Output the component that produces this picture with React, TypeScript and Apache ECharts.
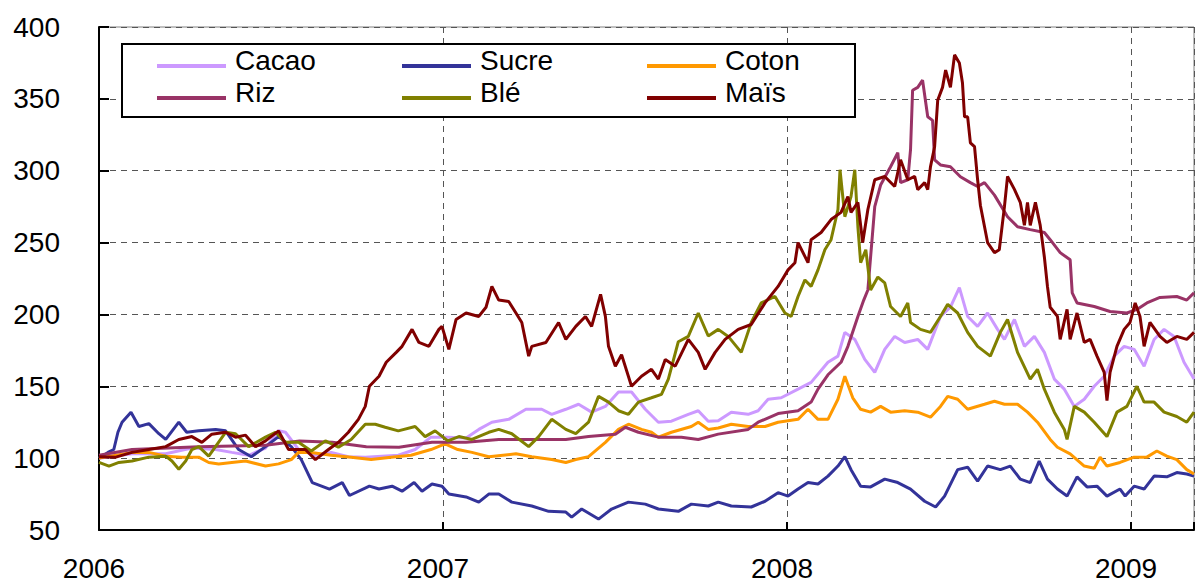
import React, { useEffect, useRef } from "react";
import * as echarts from "echarts";

const NAMES = ["Cacao", "Sucre", "Coton", "Riz", "Blé", "Maïs"];
const COLORS = ["#CC99FF", "#333399", "#FF9900", "#993366", "#808000", "#800000"];
const X_MIN = 2006;
const X_MAX = 2009.183;
const Y_MIN = 50;
const Y_MAX = 400;

// [decimal year, index value]
const CACAO: [number, number][] = [
  [2006.0, 100], [2006.096, 103], [2006.194, 103], [2006.27, 107], [2006.339, 106], [2006.386, 104],
  [2006.435, 102], [2006.484, 107], [2006.522, 119], [2006.542, 118], [2006.58, 106], [2006.629, 102],
  [2006.675, 104], [2006.725, 101], [2006.774, 100.7], [2006.87, 102], [2006.919, 106], [2006.965, 114.6],
  [2007.014, 114.6], [2007.067, 114], [2007.104, 120], [2007.142, 125], [2007.191, 127], [2007.241, 134],
  [2007.287, 134], [2007.316, 130.5], [2007.357, 134], [2007.394, 137.5], [2007.432, 132], [2007.472, 136],
  [2007.51, 146], [2007.548, 146], [2007.588, 134], [2007.626, 125], [2007.664, 125.7], [2007.713, 130.5],
  [2007.742, 133], [2007.771, 125.7], [2007.8, 126], [2007.838, 132], [2007.887, 130.5], [2007.916, 133],
  [2007.945, 141], [2007.983, 142], [2008.032, 148], [2008.07, 152.7], [2008.119, 166.7], [2008.148, 171],
  [2008.168, 187.5], [2008.197, 182.6], [2008.226, 168.7], [2008.255, 159.7], [2008.284, 175.7], [2008.313, 184.7],
  [2008.342, 180.5], [2008.38, 182.6], [2008.409, 175.7], [2008.446, 198.6], [2008.475, 205], [2008.501, 218.7],
  [2008.525, 198.6], [2008.554, 191.7], [2008.583, 201], [2008.612, 189.6], [2008.632, 182.6], [2008.661, 196.5],
  [2008.69, 177.8], [2008.719, 184.7], [2008.748, 173.6], [2008.777, 155], [2008.806, 148], [2008.835, 136],
  [2008.864, 141], [2008.893, 150], [2008.922, 157], [2008.951, 171], [2008.98, 177.8], [2009.009, 175.7],
  [2009.038, 164], [2009.067, 182.6], [2009.096, 189.6], [2009.125, 184.7], [2009.154, 166.7], [2009.183, 155],
];

const SUCRE: [number, number][] = [
  [2006.0, 100], [2006.026, 104], [2006.043, 106], [2006.055, 118], [2006.067, 125], [2006.093, 132],
  [2006.116, 122], [2006.145, 124], [2006.174, 117], [2006.194, 113], [2006.232, 125], [2006.255, 118],
  [2006.29, 119], [2006.339, 120], [2006.368, 119], [2006.406, 106], [2006.443, 101], [2006.484, 108],
  [2006.522, 115], [2006.559, 108], [2006.588, 99], [2006.62, 83], [2006.67, 78.5], [2006.707, 83],
  [2006.728, 74], [2006.786, 80.5], [2006.814, 78.5], [2006.852, 80.5], [2006.881, 77], [2006.916, 83],
  [2006.939, 77], [2006.968, 82], [2006.997, 80.5], [2007.017, 75], [2007.067, 73], [2007.104, 69.4],
  [2007.133, 75], [2007.162, 75], [2007.2, 69.4], [2007.258, 66.7], [2007.307, 63], [2007.357, 62.5],
  [2007.374, 59], [2007.403, 64.6], [2007.452, 57.6], [2007.49, 64.6], [2007.539, 69.4], [2007.588, 68],
  [2007.626, 64.6], [2007.684, 63], [2007.722, 68], [2007.771, 66.7], [2007.8, 69.4], [2007.838, 66.7],
  [2007.896, 66], [2007.936, 70], [2007.974, 76], [2008.003, 73.6], [2008.032, 78.5], [2008.061, 83],
  [2008.09, 82], [2008.119, 87.5], [2008.148, 94.5], [2008.168, 101], [2008.186, 92], [2008.214, 80.5],
  [2008.243, 80], [2008.284, 85.4], [2008.322, 83], [2008.359, 78.5], [2008.4, 70], [2008.432, 66],
  [2008.458, 73.6], [2008.496, 92], [2008.525, 93.7], [2008.554, 84], [2008.583, 94.5], [2008.62, 92],
  [2008.649, 94.5], [2008.678, 85.4], [2008.707, 83], [2008.733, 98], [2008.757, 85.4], [2008.786, 78.5],
  [2008.814, 73.6], [2008.843, 87], [2008.872, 80], [2008.901, 80.5], [2008.93, 73.6], [2008.968, 78.5],
  [2008.983, 73.6], [2009.009, 80.5], [2009.038, 78.5], [2009.067, 87.5], [2009.104, 87], [2009.133, 90],
  [2009.162, 89], [2009.183, 87.5],
];

const COTON: [number, number][] = [
  [2006.0, 100], [2006.096, 104], [2006.145, 104], [2006.194, 101.4], [2006.241, 100.7], [2006.29, 100.7],
  [2006.319, 97], [2006.348, 96], [2006.386, 97], [2006.426, 98], [2006.484, 94.5], [2006.522, 96],
  [2006.559, 99], [2006.58, 104], [2006.617, 104], [2006.675, 102], [2006.733, 100.7], [2006.791, 99],
  [2006.849, 100.7], [2006.907, 102], [2006.965, 106], [2007.006, 110], [2007.043, 106], [2007.084, 104],
  [2007.133, 101], [2007.212, 103], [2007.258, 101], [2007.316, 99], [2007.357, 97], [2007.386, 99],
  [2007.423, 101], [2007.472, 111], [2007.51, 120], [2007.539, 123.6], [2007.577, 120], [2007.606, 118],
  [2007.626, 114.6], [2007.664, 118], [2007.722, 122], [2007.742, 125], [2007.771, 120], [2007.8, 121],
  [2007.838, 123.6], [2007.887, 122], [2007.936, 122], [2007.974, 125], [2008.032, 127], [2008.061, 134],
  [2008.09, 127], [2008.119, 127], [2008.148, 141], [2008.168, 157], [2008.191, 142], [2008.214, 134],
  [2008.243, 132], [2008.272, 136], [2008.301, 132], [2008.342, 133], [2008.38, 132], [2008.417, 128.5],
  [2008.446, 136], [2008.467, 143], [2008.496, 141], [2008.525, 134], [2008.574, 137.5], [2008.603, 139.6],
  [2008.632, 137.5], [2008.67, 137.5], [2008.699, 132], [2008.728, 125], [2008.765, 113], [2008.786, 107.6],
  [2008.823, 103], [2008.864, 94.5], [2008.893, 93], [2008.91, 100.7], [2008.93, 94.5], [2008.968, 97],
  [2009.009, 100.7], [2009.046, 100.7], [2009.075, 105], [2009.104, 101.4], [2009.133, 99], [2009.162, 92],
  [2009.183, 89],
];

const RIZ: [number, number][] = [
  [2006.0, 102], [2006.096, 106], [2006.29, 108], [2006.484, 109], [2006.583, 112], [2006.678, 111],
  [2006.777, 108], [2006.872, 107.6], [2006.968, 111], [2007.067, 111], [2007.162, 113], [2007.258, 113],
  [2007.357, 113], [2007.423, 115], [2007.501, 116.7], [2007.53, 121.5], [2007.568, 118], [2007.626, 114.6],
  [2007.693, 114.6], [2007.742, 113], [2007.8, 116.7], [2007.887, 120], [2007.916, 125], [2007.974, 131],
  [2008.032, 133], [2008.07, 139], [2008.09, 148], [2008.119, 158], [2008.157, 166.7], [2008.177, 177.8],
  [2008.206, 198.6], [2008.223, 210], [2008.235, 217], [2008.255, 275], [2008.272, 290], [2008.301, 302.8],
  [2008.322, 312.5], [2008.33, 291.7], [2008.351, 293.7], [2008.359, 314.6], [2008.365, 356], [2008.38, 358],
  [2008.394, 363], [2008.409, 337.5], [2008.423, 335], [2008.429, 307.6], [2008.446, 304], [2008.475, 302.8],
  [2008.504, 295.8], [2008.533, 291.7], [2008.554, 289], [2008.574, 291.7], [2008.603, 283], [2008.641, 268],
  [2008.67, 261], [2008.707, 259], [2008.748, 257], [2008.765, 252], [2008.794, 243], [2008.823, 238],
  [2008.829, 215], [2008.843, 208], [2008.893, 205.5], [2008.939, 202], [2008.988, 201], [2009.017, 203.5],
  [2009.046, 208], [2009.084, 211.8], [2009.133, 212.5], [2009.162, 210], [2009.183, 215],
];

const BLE: [number, number][] = [
  [2006.0, 97], [2006.029, 94.5], [2006.058, 97], [2006.096, 98], [2006.145, 100.7], [2006.194, 101.4],
  [2006.212, 98], [2006.232, 92.3], [2006.252, 98], [2006.27, 106], [2006.29, 108], [2006.319, 101.4],
  [2006.368, 118], [2006.397, 117], [2006.435, 108], [2006.484, 114.6], [2006.513, 118], [2006.542, 111],
  [2006.58, 111], [2006.617, 105], [2006.658, 112], [2006.696, 107.6], [2006.733, 113], [2006.774, 123.6],
  [2006.803, 123.6], [2006.832, 121.5], [2006.87, 119], [2006.919, 122], [2006.948, 115], [2006.977, 119],
  [2007.014, 112], [2007.046, 115], [2007.084, 113], [2007.133, 118], [2007.162, 120], [2007.2, 117],
  [2007.249, 108], [2007.278, 115], [2007.316, 127], [2007.357, 120], [2007.386, 117], [2007.423, 125],
  [2007.452, 143], [2007.481, 139], [2007.51, 133], [2007.539, 130.5], [2007.568, 139], [2007.606, 142],
  [2007.635, 144.4], [2007.655, 155], [2007.684, 181], [2007.713, 184.7], [2007.742, 201], [2007.771, 185],
  [2007.8, 189.6], [2007.829, 184.7], [2007.867, 173.6], [2007.896, 194.4], [2007.925, 208], [2007.965, 212.5],
  [2007.994, 201], [2008.012, 198.6], [2008.032, 212.5], [2008.052, 224], [2008.07, 219.5], [2008.09, 231],
  [2008.11, 245], [2008.128, 252], [2008.148, 273], [2008.154, 300.7], [2008.168, 268], [2008.186, 282],
  [2008.197, 300.7], [2008.206, 261], [2008.214, 236], [2008.229, 245], [2008.243, 217], [2008.264, 226],
  [2008.284, 222], [2008.301, 205.5], [2008.33, 198.6], [2008.351, 208], [2008.359, 194.4], [2008.388, 189.6],
  [2008.417, 187.5], [2008.446, 198.6], [2008.467, 207], [2008.496, 201], [2008.525, 187.5], [2008.554, 177.8],
  [2008.591, 171], [2008.62, 187.5], [2008.641, 196.5], [2008.67, 173.6], [2008.707, 155], [2008.728, 161.8],
  [2008.748, 148], [2008.777, 132], [2008.806, 120], [2008.814, 113], [2008.835, 136], [2008.864, 132],
  [2008.893, 125], [2008.93, 115], [2008.959, 132], [2008.988, 136], [2009.017, 150], [2009.038, 139],
  [2009.067, 139], [2009.096, 132], [2009.133, 129], [2009.162, 125], [2009.183, 132],
];

const MAIS: [number, number][] = [
  [2006.0, 101], [2006.049, 100.7], [2006.096, 104], [2006.145, 106], [2006.194, 108], [2006.232, 113],
  [2006.27, 115], [2006.299, 111], [2006.328, 116.7], [2006.368, 118], [2006.397, 114.6], [2006.426, 116],
  [2006.455, 108], [2006.484, 112], [2006.522, 119], [2006.551, 106], [2006.6, 106], [2006.629, 99],
  [2006.667, 106], [2006.696, 111], [2006.725, 118], [2006.754, 127], [2006.774, 136], [2006.786, 150],
  [2006.814, 157], [2006.835, 166.7], [2006.864, 173.6], [2006.881, 177.8], [2006.91, 189.6], [2006.93, 180.5],
  [2006.959, 177.8], [2006.988, 189.6], [2006.997, 191.7], [2007.017, 175.7], [2007.038, 196.5], [2007.067, 201],
  [2007.104, 198.6], [2007.125, 205], [2007.142, 219.5], [2007.162, 210], [2007.191, 209], [2007.212, 201],
  [2007.229, 194.4], [2007.249, 171], [2007.258, 177.8], [2007.299, 180.5], [2007.336, 194.4], [2007.357, 182.6],
  [2007.386, 191.7], [2007.414, 198.6], [2007.432, 191.7], [2007.458, 214], [2007.472, 198.6], [2007.481, 177.8],
  [2007.501, 164], [2007.519, 172], [2007.548, 150], [2007.577, 157], [2007.606, 161.8], [2007.626, 155],
  [2007.646, 168.7], [2007.675, 164], [2007.713, 182.6], [2007.742, 173.6], [2007.762, 161.8], [2007.791, 173.6],
  [2007.82, 182.6], [2007.858, 189.6], [2007.896, 193], [2007.936, 208], [2007.974, 219.5], [2008.003, 231],
  [2008.023, 236], [2008.032, 250], [2008.061, 236], [2008.07, 252], [2008.099, 257], [2008.128, 266],
  [2008.157, 271], [2008.177, 282], [2008.186, 271], [2008.206, 278], [2008.22, 250], [2008.235, 273],
  [2008.255, 293.7], [2008.284, 296], [2008.313, 289], [2008.33, 307.6], [2008.351, 293.7], [2008.371, 296],
  [2008.38, 286.8], [2008.4, 291.7], [2008.409, 286.8], [2008.417, 302.8], [2008.429, 316.7], [2008.438, 349],
  [2008.452, 358], [2008.461, 370], [2008.475, 358], [2008.487, 380.6], [2008.501, 375], [2008.51, 361],
  [2008.516, 337.5], [2008.525, 337.5], [2008.533, 319.4], [2008.545, 316.7], [2008.554, 293.7], [2008.562, 276],
  [2008.583, 250], [2008.603, 243], [2008.617, 245], [2008.632, 275], [2008.641, 296], [2008.661, 287],
  [2008.678, 278], [2008.69, 262], [2008.699, 278], [2008.707, 262], [2008.722, 278], [2008.736, 262],
  [2008.748, 240], [2008.757, 219.5], [2008.765, 205], [2008.786, 198.6], [2008.794, 182.6], [2008.814, 203.5],
  [2008.823, 182.6], [2008.843, 201], [2008.864, 180.5], [2008.881, 182.6], [2008.901, 171], [2008.922, 159.7],
  [2008.93, 140], [2008.939, 159.7], [2008.959, 177.8], [2008.98, 189.6], [2008.997, 194.4], [2009.012, 208],
  [2009.026, 198.6], [2009.038, 177.8], [2009.055, 194.4], [2009.084, 184.7], [2009.104, 180.5], [2009.133, 184.7],
  [2009.162, 182.6], [2009.183, 187.5],
];

const SERIES_DATA = [CACAO, SUCRE, COTON, RIZ, BLE, MAIS];

const FONT = '"Liberation Sans", Arial, Helvetica, sans-serif';

export default function App() {
  const ref = useRef<HTMLDivElement>(null);

  useEffect(() => {
    if (!ref.current) return;
    const chart = echarts.init(ref.current, null, { renderer: "svg" });

    const legendCols = [157, 402, 647];
    const legendRows = [66, 98];
    const legendItems: any[] = [];
    NAMES.forEach((name, i) => {
      const col = i % 3;
      const row = Math.floor(i / 3);
      const x = legendCols[col];
      const y = legendRows[row];
      legendItems.push({
        type: "line",
        shape: { x1: x, y1: y, x2: x + 69, y2: y },
        style: { stroke: COLORS[i], lineWidth: 4 },
        z: 101,
      });
      legendItems.push({
        type: "text",
        x: x + 78,
        y: y - 5.5,
        style: {
          text: name,
          fill: "#000",
          font: `28px ${FONT}`,
          verticalAlign: "middle",
          align: "left",
        },
        z: 101,
      });
    });

    const option: any = {
      animation: false,
      grid: {
        left: 99,
        top: 27,
        right: 0,
        bottom: 51,
        show: true,
        borderColor: "#808080",
        borderWidth: 1,
        backgroundColor: "transparent",
      },
      xAxis: {
        type: "value",
        min: X_MIN,
        max: X_MAX,
        interval: 1,
        axisLine: { show: true, onZero: false, lineStyle: { color: "#000", width: 2 } },
        axisTick: { show: true, inside: true, length: 8, lineStyle: { color: "#000", width: 2 } },
        axisLabel: {
          formatter: (v: number) =>
            Math.abs(v - Math.round(v)) < 1e-6 ? String(Math.round(v)) : "",
          fontSize: 28,
          color: "#000",
          fontFamily: FONT,
          margin: 24,
          padding: [0, 10, 0, 0],
        },
        splitLine: { show: true, lineStyle: { type: [6, 5], color: "#555", width: 1 } },
      },
      yAxis: {
        type: "value",
        min: Y_MIN,
        max: Y_MAX,
        interval: 50,
        axisLine: { show: true, onZero: false, lineStyle: { color: "#000", width: 2 } },
        axisTick: { show: true, inside: true, length: 10, lineStyle: { color: "#000", width: 2 } },
        axisLabel: {
          fontSize: 28,
          color: "#000",
          fontFamily: FONT,
          margin: 39,
        },
        splitLine: { show: true, lineStyle: { type: [6, 5], color: "#555", width: 1 } },
      },
      series: NAMES.map((name, i) => ({
        name,
        type: "line",
        data: SERIES_DATA[i],
        showSymbol: false,
        symbol: "none",
        clip: true,
        lineStyle: { width: 3, color: COLORS[i] },
        itemStyle: { color: COLORS[i] },
        z: 2 + i,
      })),
      graphic: [
        {
          type: "rect",
          shape: { x: 122, y: 44, width: 733, height: 73 },
          style: { fill: "#fff", stroke: "#000", lineWidth: 2 },
          z: 100,
        },
        ...legendItems,
      ],
    };

    chart.setOption(option);
    return () => chart.dispose();
  }, []);

  return (
    <div
      ref={ref}
      style={{ position: "fixed", left: 0, top: 0, width: 1197, height: 582, background: "#fff" }}
    />
  );
}
